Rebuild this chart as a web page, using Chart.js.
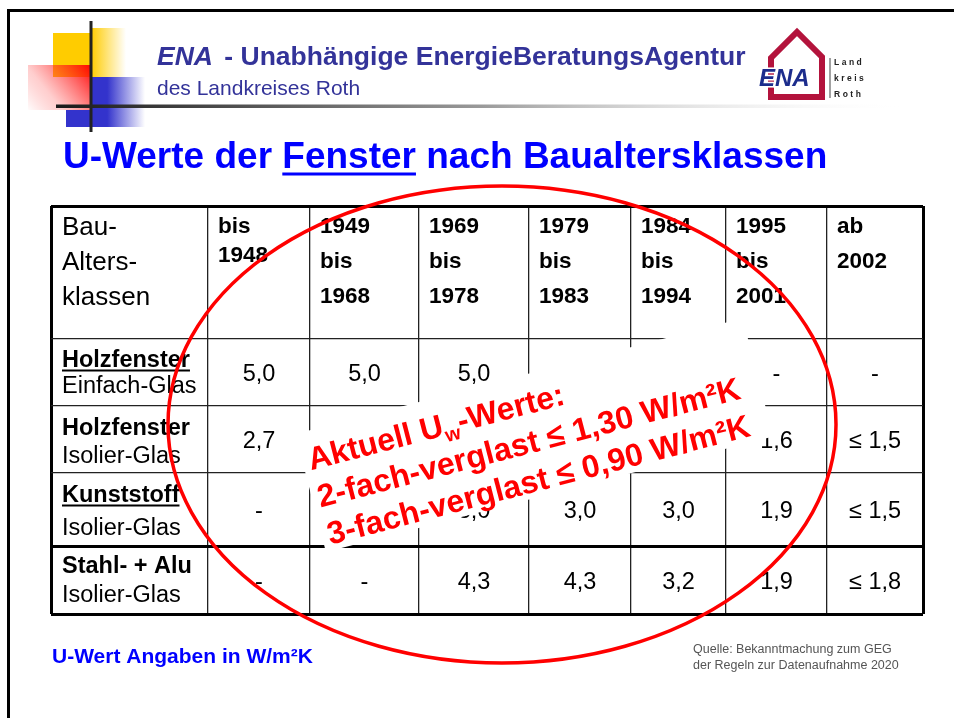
<!DOCTYPE html>
<html lang="de">
<head>
<meta charset="utf-8">
<title>U-Werte der Fenster nach Baualtersklassen</title>
<script src="https://cdn.jsdelivr.net/npm/chart.js@4.4.1/dist/chart.umd.min.js"></script>
<style>
  html, body { margin: 0; padding: 0; background: #fff; }
  #slide { display: block; }
</style>
</head>
<body>
<canvas id="slide" width="954" height="718"></canvas>
<script>
// Tabellen-Daten
const cornerLabel = ["Bau-", "Alters-", "klassen"];
const periods = [
  ["bis", "1948"],
  ["1949", "bis", "1968"],
  ["1969", "bis", "1978"],
  ["1979", "bis", "1983"],
  ["1984", "bis", "1994"],
  ["1995", "bis", "2001"],
  ["ab", "2002"],
];
const frameTypes = ["Holzfenster", "Holzfenster", "Kunststoff", "Stahl- + Alu"];
const glazingTypes = ["Einfach-Glas", "Isolier-Glas", "Isolier-Glas", "Isolier-Glas"];
const holzEinfach = ["5,0", "5,0", "5,0", "-", "-", "-", "-"];
const holzIsolier = ["2,7", "2,7", "2,7", "2,7", "2,7", "1,6", "≤ 1,5"];
const kunststoffIsolier = ["-", "3,0", "3,0", "3,0", "3,0", "1,9", "≤ 1,5"];
const stahlAluIsolier = ["-", "-", "4,3", "4,3", "3,2", "1,9", "≤ 1,8"];

// Layout der Tabelle (Breiten/Hoehen in Tabellen-Einheiten)
const colWidths = [157, 102, 109, 110, 102, 95, 101, 96];
const rowHeights = [133, 67, 67, 73, 68];
const headerGap = [29, 35, 35, 35, 35, 35, 35];
const labelOffsets = [[28, 54], [29, 57], [29, 62], [27, 56]];
const underlined = [true, false, true, false];

const SANS = '"Liberation Sans", Arial, Helvetica, sans-serif';

const cumulate = (arr) => arr.reduce((acc, w) => { acc.push(acc[acc.length - 1] + w); return acc; }, [0]);
const colEdges = cumulate(colWidths);
const rowEdges = cumulate(rowHeights);

// one invisible point per value cell, centred in its cell
const valueRows = [holzEinfach, holzIsolier, kunststoffIsolier, stahlAluIsolier];
const cellPoints = [];
valueRows.forEach((row, r) => {
  row.forEach((v, c) => {
    cellPoints.push({
      x: (colEdges[c + 1] + colEdges[c + 2]) / 2,
      y: (rowEdges[r + 1] + rowEdges[r + 2]) / 2,
      label: v,
    });
  });
});

function drawFrame(ctx) {
  ctx.fillStyle = "#000";
  ctx.fillRect(7, 9, 954 - 7, 3);
  ctx.fillRect(7, 9, 3, 718 - 9);
}

function drawDecor(ctx) {
  // yellow
  ctx.fillStyle = "#ffcc00";
  ctx.fillRect(53, 33, 38, 44);
  let g = ctx.createLinearGradient(91, 0, 126, 0);
  g.addColorStop(0, "rgba(255,204,0,1)");
  g.addColorStop(1, "rgba(255,204,0,0)");
  ctx.fillStyle = g;
  ctx.fillRect(91, 28, 35, 49);
  // red
  g = ctx.createLinearGradient(28, 112, 90, 62);
  g.addColorStop(0, "rgba(255,0,0,0)");
  g.addColorStop(0.35, "rgba(255,60,60,0.25)");
  g.addColorStop(1, "rgba(255,0,0,1)");
  ctx.fillStyle = g;
  ctx.fillRect(28, 65, 62, 45);
  // blue
  ctx.fillStyle = "#3333cc";
  ctx.fillRect(66, 110, 25, 17);
  g = ctx.createLinearGradient(91, 0, 145, 0);
  g.addColorStop(0, "rgba(51,51,204,1)");
  g.addColorStop(0.3, "rgba(51,51,204,1)");
  g.addColorStop(1, "rgba(51,51,204,0)");
  ctx.fillStyle = g;
  ctx.fillRect(91, 77, 54, 50);
  // lines
  ctx.fillStyle = "#222";
  ctx.fillRect(89.5, 21, 3, 111);
  g = ctx.createLinearGradient(56, 0, 910, 0);
  g.addColorStop(0, "#1a1a1a");
  g.addColorStop(0.5, "#9a9a9a");
  g.addColorStop(1, "rgba(255,255,255,0)");
  ctx.fillStyle = g;
  ctx.fillRect(56, 104.5, 854, 3.5);
}

function drawLogo(ctx) {
  ctx.save();
  ctx.strokeStyle = "#b3133c";
  ctx.lineWidth = 6;
  ctx.beginPath();
  ctx.moveTo(771, 97);
  ctx.lineTo(771, 58);
  ctx.lineTo(797, 32);
  ctx.lineTo(822, 57);
  ctx.lineTo(822, 97);
  ctx.closePath();
  ctx.stroke();
  ctx.font = `bold italic 24px ${SANS}`;
  ctx.lineWidth = 3;
  ctx.strokeStyle = "#fff";
  ctx.strokeText("ENA", 759, 86);
  ctx.fillStyle = "#1c2c8c";
  ctx.fillText("ENA", 759, 86);
  ctx.fillStyle = "#444";
  ctx.fillRect(829.5, 58, 1, 40);
  ctx.fillStyle = "#222";
  ctx.font = `bold 8.5px ${SANS}`;
  ctx.letterSpacing = "2.5px";
  ["Land", "kreis", "Roth"].forEach((t, i) => ctx.fillText(t, 834, 65 + i * 16));
  ctx.restore();
}

function drawHeadings(ctx) {
  // Kopfzeile
  ctx.fillStyle = "#333399";
  ctx.font = `bold italic 26.5px ${SANS}`;
  ctx.fillText("ENA", 157, 65);
  let x = 157 + ctx.measureText("ENA").width;
  ctx.font = `bold 26.5px ${SANS}`;
  ctx.fillText(" - Unabhängige EnergieBeratungsAgentur", x + 4, 65);
  ctx.font = `21px ${SANS}`;
  ctx.fillText("des Landkreises Roth", 157, 95);

  // Titel
  ctx.fillStyle = "#0000ff";
  ctx.font = `bold 37px ${SANS}`;
  x = 63;
  ctx.fillText("U-Werte der ", x, 168);
  x += ctx.measureText("U-Werte der ").width;
  ctx.fillText("Fenster", x, 168);
  const w = ctx.measureText("Fenster").width;
  ctx.fillRect(x, 172.5, w, 3);
  ctx.fillText(" nach Baualtersklassen", x + w, 168);

  // Fusszeile
  ctx.font = `bold 21px ${SANS}`;
  ctx.fillText("U-Wert Angaben in W/m²K", 52, 663);
  ctx.fillStyle = "#555";
  ctx.font = `12.5px ${SANS}`;
  ctx.fillText("Quelle: Bekanntmachung zum GEG", 693, 653);
  ctx.fillText("der Regeln zur Datenaufnahme 2020", 693, 669);
}

function drawCells(chart) {
  const { ctx, scales: { x, y } } = chart;
  ctx.save();
  ctx.fillStyle = "#000";
  const left = x.getPixelForValue(colEdges[0]);
  const top = y.getPixelForValue(rowEdges[0]);

  ctx.font = `26px ${SANS}`;
  cornerLabel.forEach((t, i) => ctx.fillText(t, left + 11, top + 29 + i * 35));

  ctx.font = `bold 22.5px ${SANS}`;
  periods.forEach((lines, c) => {
    const cx = x.getPixelForValue(colEdges[c + 1]) + 10;
    lines.forEach((t, i) => ctx.fillText(t, cx, top + 27 + i * headerGap[c]));
  });

  frameTypes.forEach((t, r) => {
    const rowTop = y.getPixelForValue(rowEdges[r + 1]);
    const [o1, o2] = labelOffsets[r];
    ctx.font = `bold 23.5px ${SANS}`;
    ctx.fillText(t, left + 11, rowTop + o1);
    if (underlined[r]) {
      ctx.fillRect(left + 11, rowTop + o1 + 2.5, ctx.measureText(t).width, 2);
    }
    ctx.font = `23.5px ${SANS}`;
    ctx.fillText(glazingTypes[r], left + 11, rowTop + o2);
  });

  // values at the scatter points
  const meta = chart.getDatasetMeta(0);
  const data = chart.data.datasets[0].data;
  ctx.font = `23.5px ${SANS}`;
  ctx.textAlign = "center";
  meta.data.forEach((pt, i) => ctx.fillText(data[i].label, pt.x, pt.y + 8.5));
  ctx.restore();
}

function drawNote(ctx) {
  ctx.save();
  ctx.translate(535, 434);
  ctx.rotate((-14.5 * Math.PI) / 180);
  ctx.fillStyle = "#fff";
  ctx.fillRect(-232, -60, 462, 122);
  ctx.fillStyle = "#ff0000";
  ctx.font = `bold 32px ${SANS}`;
  let x = -226;
  ctx.fillText("Aktuell U", x, -21);
  x += ctx.measureText("Aktuell U").width;
  ctx.font = `bold 20px ${SANS}`;
  ctx.fillText("w", x, -14);
  x += ctx.measureText("w").width;
  ctx.font = `bold 32px ${SANS}`;
  ctx.fillText("-Werte:", x, -21);
  ctx.fillText("2-fach-verglast ≤ 1,30 W/m²K", -226, 17.5);
  ctx.fillText("3-fach-verglast ≤ 0,90 W/m²K", -226, 56);
  ctx.restore();
}

function drawEllipse(ctx) {
  ctx.save();
  ctx.strokeStyle = "#ff0000";
  ctx.lineWidth = 3.5;
  ctx.beginPath();
  ctx.ellipse(502, 424.5, 334, 238.5, 0, 0, 2 * Math.PI);
  ctx.stroke();
  ctx.restore();
}

const slidePlugin = {
  id: "slide",
  beforeDraw(chart) {
    const ctx = chart.ctx;
    ctx.save();
    ctx.fillStyle = "#fff";
    ctx.fillRect(0, 0, chart.width, chart.height);
    drawFrame(ctx);
    drawDecor(ctx);
    drawLogo(ctx);
    drawHeadings(ctx);
    ctx.restore();
  },
  afterDatasetsDraw(chart) {
    drawCells(chart);
  },
  afterDraw(chart) {
    drawNote(chart.ctx);
    drawEllipse(chart.ctx);
  },
};

const thickX = (i) => i === 0 || i === colEdges.length - 1;
const thickY = (i) => i === 0 || i === 4 || i === rowEdges.length - 1;

new Chart(document.getElementById("slide"), {
  type: "scatter",
  data: {
    datasets: [{ data: cellPoints, pointRadius: 0, pointHoverRadius: 0 }],
  },
  options: {
    responsive: false,
    animation: false,
    events: [],
    layout: { padding: { left: 51, top: 206, right: 31, bottom: 104 } },
    plugins: { legend: { display: false }, tooltip: { enabled: false } },
    scales: {
      x: {
        type: "linear",
        min: colEdges[0],
        max: colEdges[colEdges.length - 1],
        afterBuildTicks: (axis) => { axis.ticks = colEdges.map((v) => ({ value: v })); },
        ticks: { display: false },
        border: { display: false },
        grid: {
          drawTicks: false,
          lineWidth: (c) => (thickX(c.index) ? 3 : 1.3),
          color: (c) => (thickX(c.index) ? "#000" : "#222"),
        },
      },
      y: {
        type: "linear",
        reverse: true,
        min: rowEdges[0],
        max: rowEdges[rowEdges.length - 1],
        afterBuildTicks: (axis) => { axis.ticks = rowEdges.map((v) => ({ value: v })); },
        ticks: { display: false },
        border: { display: false },
        grid: {
          drawTicks: false,
          lineWidth: (c) => (thickY(c.index) ? 3 : 1.3),
          color: (c) => (thickY(c.index) ? "#000" : "#222"),
        },
      },
    },
  },
  plugins: [slidePlugin],
});
</script>
</body>
</html>
